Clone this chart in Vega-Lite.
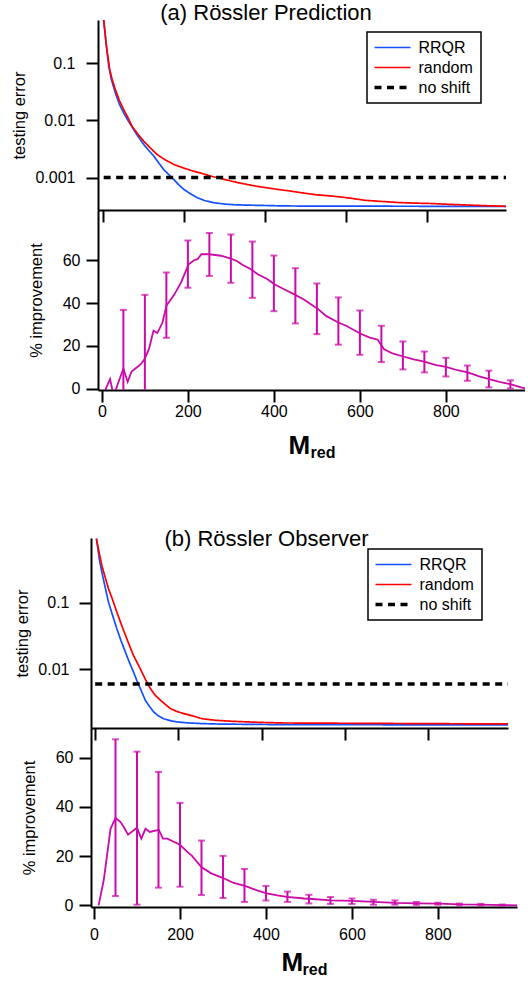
{
  "$schema": "https://vega.github.io/schema/vega-lite/v6.json",
  "background": "white",
  "padding": {"left": 10, "top": 2, "right": 0, "bottom": 0},
  "config": {
    "font": "Liberation Sans",
    "view": {"stroke": null},
    "axis": {"domainColor": "black", "domainWidth": 2, "tickColor": "black", "tickWidth": 2, "tickSize": 12, "labelColor": "black", "labelFontSize": 16, "labelPadding": 6, "labelFont": "Liberation Sans", "titleFont": "Liberation Sans", "titleColor": "black", "titleFontSize": 16.5, "titleFontWeight": "normal", "grid": false, "labelFlush": false, "labelOverlap": false},
    "legend": {"title": null, "orient": "none", "symbolType": "M-1.8,0H1.8", "symbolSize": 400, "symbolOffset": 10, "labelOffset": 18, "labelFontSize": 16, "labelColor": "black", "labelFont": "Liberation Sans", "padding": 7.5, "strokeColor": "black", "fillColor": "white", "rowPadding": 4},
    "title": {"color": "black", "font": "Liberation Sans", "fontWeight": "normal", "fontSize": 22}
  },
  "datasets": {
    "aCurve": [
      {"M": 1, "err": 0.57, "series": "RRQR"}, {"M": 8, "err": 0.19, "series": "RRQR"}, {"M": 13.6, "err": 0.0875, "series": "RRQR"}, {"M": 20, "err": 0.052, "series": "RRQR"}, {"M": 30, "err": 0.03, "series": "RRQR"}, {"M": 40, "err": 0.019, "series": "RRQR"}, {"M": 50.6, "err": 0.0134, "series": "RRQR"}, {"M": 62, "err": 0.0097, "series": "RRQR"}, {"M": 75, "err": 0.00687, "series": "RRQR"}, {"M": 87, "err": 0.0051, "series": "RRQR"}, {"M": 100, "err": 0.00377, "series": "RRQR"}, {"M": 112, "err": 0.003, "series": "RRQR"}, {"M": 125, "err": 0.00236, "series": "RRQR"}, {"M": 137, "err": 0.0018, "series": "RRQR"}, {"M": 149, "err": 0.00138, "series": "RRQR"}, {"M": 162, "err": 0.00112, "series": "RRQR"}, {"M": 174, "err": 0.000923, "series": "RRQR"}, {"M": 186, "err": 0.00075, "series": "RRQR"}, {"M": 199, "err": 0.000618, "series": "RRQR"}, {"M": 215, "err": 0.00052, "series": "RRQR"}, {"M": 232, "err": 0.000443, "series": "RRQR"}, {"M": 250, "err": 0.000395, "series": "RRQR"}, {"M": 273, "err": 0.000362, "series": "RRQR"}, {"M": 300, "err": 0.000343, "series": "RRQR"}, {"M": 322, "err": 0.000334, "series": "RRQR"}, {"M": 350, "err": 0.000329, "series": "RRQR"}, {"M": 388, "err": 0.000325, "series": "RRQR"}, {"M": 430, "err": 0.00032, "series": "RRQR"}, {"M": 470, "err": 0.000317, "series": "RRQR"}, {"M": 550, "err": 0.000316, "series": "RRQR"}, {"M": 650, "err": 0.000315, "series": "RRQR"}, {"M": 750, "err": 0.000314, "series": "RRQR"}, {"M": 850, "err": 0.000313, "series": "RRQR"}, {"M": 994, "err": 0.000312, "series": "RRQR"},
      {"M": 1, "err": 0.57, "series": "random"}, {"M": 8, "err": 0.195, "series": "random"}, {"M": 16, "err": 0.0764, "series": "random"}, {"M": 22, "err": 0.052, "series": "random"}, {"M": 30, "err": 0.0343, "series": "random"}, {"M": 40, "err": 0.022, "series": "random"}, {"M": 50.6, "err": 0.01535, "series": "random"}, {"M": 60, "err": 0.0115, "series": "random"}, {"M": 71, "err": 0.00787, "series": "random"}, {"M": 85, "err": 0.0058, "series": "random"}, {"M": 100, "err": 0.00431, "series": "random"}, {"M": 116, "err": 0.0033, "series": "random"}, {"M": 133, "err": 0.00252, "series": "random"}, {"M": 150, "err": 0.0021, "series": "random"}, {"M": 174, "err": 0.00169, "series": "random"}, {"M": 200, "err": 0.00145, "series": "random"}, {"M": 223, "err": 0.00129, "series": "random"}, {"M": 245, "err": 0.00117, "series": "random"}, {"M": 265, "err": 0.00106, "series": "random"}, {"M": 285, "err": 0.00098, "series": "random"}, {"M": 306, "err": 0.000901, "series": "random"}, {"M": 330, "err": 0.00082, "series": "random"}, {"M": 355, "err": 0.000755, "series": "random"}, {"M": 380, "err": 0.0007, "series": "random"}, {"M": 404, "err": 0.000661, "series": "random"}, {"M": 430, "err": 0.00062, "series": "random"}, {"M": 462, "err": 0.000579, "series": "random"}, {"M": 490, "err": 0.00054, "series": "random"}, {"M": 525, "err": 0.0005, "series": "random"}, {"M": 565, "err": 0.000473, "series": "random"}, {"M": 605, "err": 0.00044, "series": "random"}, {"M": 647, "err": 0.000398, "series": "random"}, {"M": 690, "err": 0.00038, "series": "random"}, {"M": 730, "err": 0.000364, "series": "random"}, {"M": 770, "err": 0.000356, "series": "random"}, {"M": 812, "err": 0.00035, "series": "random"}, {"M": 850, "err": 0.00034, "series": "random"}, {"M": 894, "err": 0.000331, "series": "random"}, {"M": 940, "err": 0.000322, "series": "random"}, {"M": 994, "err": 0.000313, "series": "random"},
      {"M": 1, "err": 0.001, "series": "no shift"}, {"M": 994, "err": 0.001, "series": "no shift"}
    ],
    "aImp": [
      {"M": 5, "imp": -2}, {"M": 9, "imp": 0}, {"M": 19, "imp": 4.6}, {"M": 24, "imp": 0}, {"M": 28, "imp": -3}, {"M": 33, "imp": 0}, {"M": 41, "imp": 4.5}, {"M": 50, "imp": 9.5}, {"M": 60, "imp": 3.3}, {"M": 69, "imp": 8.1}, {"M": 81, "imp": 10}, {"M": 90.5, "imp": 11.5}, {"M": 99.4, "imp": 13.9}, {"M": 109.4, "imp": 18.5}, {"M": 120, "imp": 27.1}, {"M": 129, "imp": 26}, {"M": 141, "imp": 30.9}, {"M": 150, "imp": 38.7}, {"M": 168, "imp": 43.8}, {"M": 184, "imp": 49.5}, {"M": 201.7, "imp": 58}, {"M": 214.6, "imp": 59.9}, {"M": 222.5, "imp": 60.4}, {"M": 231.4, "imp": 62.7}, {"M": 249.3, "imp": 62.7}, {"M": 277, "imp": 62}, {"M": 300, "imp": 60.7}, {"M": 315.8, "imp": 59.3}, {"M": 326.7, "imp": 57.8}, {"M": 346.6, "imp": 55.7}, {"M": 362.5, "imp": 53.4}, {"M": 385.3, "imp": 51.1}, {"M": 401.2, "imp": 48.7}, {"M": 424, "imp": 46.4}, {"M": 449.8, "imp": 43.8}, {"M": 470.7, "imp": 41.5}, {"M": 493.5, "imp": 38.4}, {"M": 500.4, "imp": 37.6}, {"M": 521.3, "imp": 34}, {"M": 550, "imp": 30.9}, {"M": 568, "imp": 29.4}, {"M": 600.7, "imp": 25.8}, {"M": 621.5, "imp": 24}, {"M": 641.4, "imp": 22.9}, {"M": 656.3, "imp": 18.5}, {"M": 676, "imp": 16.5}, {"M": 701, "imp": 15.1}, {"M": 722.8, "imp": 13.9}, {"M": 749.6, "imp": 12.7}, {"M": 777.4, "imp": 11.1}, {"M": 800.2, "imp": 10.3}, {"M": 827, "imp": 8.7}, {"M": 850.8, "imp": 7.7}, {"M": 877.6, "imp": 5.8}, {"M": 900.5, "imp": 4.6}, {"M": 924.3, "imp": 3.3}, {"M": 950, "imp": 2.2}, {"M": 974.9, "imp": 0.7}, {"M": 989.8, "imp": 0}
    ],
    "aBars": [
      {"M": 50, "lo": -5, "hi": 36.8}, {"M": 100, "lo": -5, "hi": 43.8}, {"M": 150, "lo": 23.8, "hi": 54.2}, {"M": 200, "lo": 47.1, "hi": 69.1}, {"M": 250, "lo": 52.6, "hi": 72.6}, {"M": 300, "lo": 49.4, "hi": 71.9}, {"M": 350, "lo": 42.4, "hi": 68.6}, {"M": 400, "lo": 36.2, "hi": 62.1}, {"M": 450, "lo": 30.5, "hi": 56.2}, {"M": 500, "lo": 25.5, "hi": 49.1}, {"M": 550, "lo": 20.6, "hi": 42.6}, {"M": 600, "lo": 15.9, "hi": 36.5}, {"M": 650, "lo": 12.5, "hi": 29.4}, {"M": 700, "lo": 9.1, "hi": 22.1}, {"M": 750, "lo": 7.7, "hi": 17.4}, {"M": 800, "lo": 5.8, "hi": 14.5}, {"M": 850, "lo": 3.8, "hi": 10.9}, {"M": 900, "lo": 0.7, "hi": 8.5}, {"M": 950, "lo": 0.2, "hi": 4.0}
    ],
    "bCurve": [
      {"M": 3, "err": 0.912, "series": "RRQR"}, {"M": 10, "err": 0.45, "series": "RRQR"}, {"M": 16, "err": 0.288, "series": "RRQR"}, {"M": 24, "err": 0.17, "series": "RRQR"}, {"M": 32, "err": 0.102, "series": "RRQR"}, {"M": 42, "err": 0.064, "series": "RRQR"}, {"M": 52, "err": 0.0407, "series": "RRQR"}, {"M": 62, "err": 0.027, "series": "RRQR"}, {"M": 72.5, "err": 0.0182, "series": "RRQR"}, {"M": 82, "err": 0.0128, "series": "RRQR"}, {"M": 92, "err": 0.00914, "series": "RRQR"}, {"M": 100, "err": 0.0068, "series": "RRQR"}, {"M": 108.5, "err": 0.00514, "series": "RRQR"}, {"M": 120.5, "err": 0.00343, "series": "RRQR"}, {"M": 130, "err": 0.0028, "series": "RRQR"}, {"M": 140.5, "err": 0.0023, "series": "RRQR"}, {"M": 152, "err": 0.002, "series": "RRQR"}, {"M": 164.5, "err": 0.00182, "series": "RRQR"}, {"M": 180, "err": 0.0017, "series": "RRQR"}, {"M": 196, "err": 0.00163, "series": "RRQR"}, {"M": 220, "err": 0.00158, "series": "RRQR"}, {"M": 252.5, "err": 0.00154, "series": "RRQR"}, {"M": 300, "err": 0.00151, "series": "RRQR"}, {"M": 360, "err": 0.0015, "series": "RRQR"}, {"M": 452, "err": 0.00148, "series": "RRQR"}, {"M": 600, "err": 0.00148, "series": "RRQR"}, {"M": 800, "err": 0.00147, "series": "RRQR"}, {"M": 991, "err": 0.00147, "series": "RRQR"},
      {"M": 3, "err": 0.912, "series": "random"}, {"M": 10, "err": 0.55, "series": "random"}, {"M": 16, "err": 0.362, "series": "random"}, {"M": 24, "err": 0.24, "series": "random"}, {"M": 32, "err": 0.162, "series": "random"}, {"M": 42, "err": 0.11, "series": "random"}, {"M": 52, "err": 0.0725, "series": "random"}, {"M": 64, "err": 0.045, "series": "random"}, {"M": 76, "err": 0.0288, "series": "random"}, {"M": 84, "err": 0.0215, "series": "random"}, {"M": 92, "err": 0.0162, "series": "random"}, {"M": 102, "err": 0.0122, "series": "random"}, {"M": 112, "err": 0.00914, "series": "random"}, {"M": 120, "err": 0.0072, "series": "random"}, {"M": 128, "err": 0.00575, "series": "random"}, {"M": 136, "err": 0.0048, "series": "random"}, {"M": 144.5, "err": 0.00407, "series": "random"}, {"M": 160, "err": 0.0033, "series": "random"}, {"M": 180.5, "err": 0.00258, "series": "random"}, {"M": 195, "err": 0.00235, "series": "random"}, {"M": 212.5, "err": 0.00217, "series": "random"}, {"M": 235, "err": 0.002, "series": "random"}, {"M": 256, "err": 0.00182, "series": "random"}, {"M": 290, "err": 0.00172, "series": "random"}, {"M": 332, "err": 0.00166, "series": "random"}, {"M": 400, "err": 0.0016, "series": "random"}, {"M": 452, "err": 0.00157, "series": "random"}, {"M": 550, "err": 0.00156, "series": "random"}, {"M": 650, "err": 0.00155, "series": "random"}, {"M": 750, "err": 0.00154, "series": "random"}, {"M": 850, "err": 0.00153, "series": "random"}, {"M": 991, "err": 0.00152, "series": "random"},
      {"M": 0, "err": 0.00604, "series": "no shift"}, {"M": 991, "err": 0.00604, "series": "no shift"}
    ],
    "bImp": [
      {"M": 10.7, "imp": 0}, {"M": 22.6, "imp": 10.2}, {"M": 38.5, "imp": 31.1}, {"M": 50, "imp": 35.5}, {"M": 61.3, "imp": 33.9}, {"M": 69.2, "imp": 31.8}, {"M": 79.2, "imp": 28.7}, {"M": 100, "imp": 31.5}, {"M": 110, "imp": 27.1}, {"M": 119.8, "imp": 31.1}, {"M": 129.7, "imp": 29.8}, {"M": 150.6, "imp": 30.7}, {"M": 160.5, "imp": 27.1}, {"M": 170.4, "imp": 27.1}, {"M": 200, "imp": 24.6}, {"M": 217, "imp": 21.7}, {"M": 228, "imp": 20.1}, {"M": 249.7, "imp": 15.6}, {"M": 271.5, "imp": 13.1}, {"M": 300.3, "imp": 11.1}, {"M": 325, "imp": 9.1}, {"M": 351, "imp": 7.9}, {"M": 379.6, "imp": 6.1}, {"M": 399.4, "imp": 5.0}, {"M": 426.2, "imp": 4.1}, {"M": 449, "imp": 3.5}, {"M": 488.7, "imp": 2.8}, {"M": 500.6, "imp": 2.7}, {"M": 550.2, "imp": 2.0}, {"M": 600.7, "imp": 1.8}, {"M": 651.3, "imp": 1.4}, {"M": 699.9, "imp": 1.0}, {"M": 750.5, "imp": 0.8}, {"M": 801, "imp": 0.7}, {"M": 851.6, "imp": 0.4}, {"M": 900.2, "imp": 0.3}, {"M": 949.8, "imp": 0.15}, {"M": 984.5, "imp": 0}
    ],
    "bBars": [
      {"M": 50, "lo": 3.8, "hi": 67.4}, {"M": 100, "lo": 0.3, "hi": 62.4}, {"M": 150, "lo": 7.2, "hi": 54.2}, {"M": 200, "lo": 7.6, "hi": 41.6}, {"M": 250, "lo": 4.2, "hi": 26.3}, {"M": 300, "lo": 3.0, "hi": 20.1}, {"M": 350, "lo": 1.4, "hi": 14.8}, {"M": 400, "lo": 2.0, "hi": 7.9}, {"M": 450, "lo": 1.4, "hi": 5.6}, {"M": 500, "lo": 0.8, "hi": 4.3}, {"M": 550, "lo": 0.6, "hi": 3.4}, {"M": 600, "lo": 0.6, "hi": 2.8}, {"M": 650, "lo": 0.3, "hi": 2.3}, {"M": 700, "lo": 0.3, "hi": 2.0}, {"M": 750, "lo": 0.2, "hi": 1.4}, {"M": 800, "lo": 0.3, "hi": 1.1}, {"M": 850, "lo": 0.05, "hi": 0.75}, {"M": 900, "lo": 0, "hi": 0.6}, {"M": 950, "lo": -0.05, "hi": 0.35}
    ]
  },
  "bounds": "flush",
  "spacing": 518,
  "resolve": {"scale": {"color": "independent", "strokeDash": "independent"}},
  "vconcat": [
    {
      "bounds": "flush",
      "spacing": 0,
      "resolve": {"scale": {"color": "independent", "strokeDash": "independent"}},
      "hconcat": [
        {"width": 7, "height": 1, "data": {"values": []}, "mark": "point"},
        {
          "bounds": "flush",
          "spacing": 0,
          "resolve": {"scale": {"color": "independent", "strokeDash": "independent"}},
          "vconcat": [
            {
              "width": 408, "height": 190,
              "title": {"text": "(a) Rössler Prediction", "frame": "group", "anchor": "middle", "dx": -36, "offset": -22, "baseline": "alphabetic"},
              "data": {"name": "aCurve"},
              "encoding": {
                "x": {"field": "M", "type": "quantitative", "scale": {"domain": [-13, 994], "nice": false, "zero": false}, "axis": {"values": [0, 200, 400, 600, 800], "labels": false, "title": null}},
                "y": {"field": "err", "type": "quantitative", "scale": {"type": "log", "domain": [0.00027, 0.57], "nice": false}, "axis": {"values": [0.001, 0.01, 0.1], "format": "~g", "title": "testing error", "labelPadding": 11, "titleX": -79, "titleBaseline": "middle"}},
                "color": {"field": "series", "type": "nominal", "scale": {"domain": ["RRQR", "random", "no shift"], "range": ["#1450ff", "#ff0000", "#000000"]}, "legend": {"legendX": 269, "legendY": 12, "encode": {"symbols": {"update": {"strokeWidth": {"signal": "datum.value === 'no shift' ? 3.5 : 1.7"}}}, "legend": {"update": {"strokeWidth": {"value": 1.5}}}}}},
                "strokeDash": {"field": "series", "type": "nominal", "scale": {"domain": ["RRQR", "random", "no shift"], "range": [[1, 0], [1, 0], [7, 5.5]]}, "legend": {"legendX": 269, "legendY": 12, "encode": {"symbols": {"update": {"strokeWidth": {"signal": "datum.value === 'no shift' ? 3.5 : 1.7"}}}, "legend": {"update": {"strokeWidth": {"value": 1.5}}}}}}
              },
              "layer": [
                {"transform": [{"filter": "datum.series !== 'no shift'"}], "mark": {"type": "line", "clip": true, "strokeWidth": 1.7}},
                {"transform": [{"filter": "datum.series === 'no shift'"}], "mark": {"type": "line", "clip": true, "strokeWidth": 3.5}}
              ]
            },
            {
              "width": 427, "height": 180,
              "resolve": {"axis": {"x": "independent"}},
              "layer": [
                {
                  "data": {"name": "aImp"},
                  "mark": {"type": "line", "clip": true, "color": "#cc0aa8", "strokeWidth": 1.8},
                  "encoding": {
                    "x": {"field": "M", "type": "quantitative", "scale": {"domain": [-9, 984], "nice": false, "zero": false}, "axis": {"orient": "bottom", "values": [0, 200, 400, 600, 800], "labelPadding": 1, "title": "M", "titleFontSize": 26, "titleFontWeight": "bold", "titleX": 190, "titleY": 63, "titleAlign": "left", "titleBaseline": "alphabetic"}},
                    "y": {"field": "imp", "type": "quantitative", "title": "% improvement", "scale": {"domain": [-0.5, 83.3], "nice": false, "zero": false}, "axis": {"values": [0, 20, 40, 60], "titleX": -62, "titleBaseline": "middle"}}
                  }
                },
                {
                  "data": {"name": "aBars"},
                  "mark": {"type": "rule", "clip": true, "color": "#cc0aa8", "strokeWidth": 2},
                  "encoding": {
                    "x": {"field": "M", "type": "quantitative", "axis": {"orient": "bottom", "title": "red", "labels": false, "ticks": false, "domain": false, "titleFontSize": 16, "titleFontWeight": "bold", "titleX": 212, "titleY": 67, "titleAlign": "left", "titleBaseline": "alphabetic"}},
                    "y": {"field": "lo", "type": "quantitative", "title": "% improvement"},
                    "y2": {"field": "hi"}
                  }
                },
                {
                  "data": {"name": "aBars"},
                  "mark": {"type": "tick", "orient": "horizontal", "clip": true, "color": "#cc0aa8", "size": 7, "thickness": 2},
                  "encoding": {
                    "x": {"field": "M", "type": "quantitative", "axis": null},
                    "y": {"field": "lo", "type": "quantitative", "title": "% improvement"}
                  }
                },
                {
                  "data": {"name": "aBars"},
                  "mark": {"type": "tick", "orient": "horizontal", "clip": true, "color": "#cc0aa8", "size": 7, "thickness": 2},
                  "encoding": {
                    "x": {"field": "M", "type": "quantitative", "axis": null},
                    "y": {"field": "hi", "type": "quantitative", "title": "% improvement"}
                  }
                }
              ]
            }
          ]
        }
      ]
    },
    {
      "bounds": "flush",
      "spacing": 0,
      "resolve": {"scale": {"color": "independent", "strokeDash": "independent"}},
      "vconcat": [
        {
          "width": 417, "height": 190,
          "title": {"text": "(b) Rössler Observer", "frame": "group", "anchor": "middle", "dx": -33, "offset": -30, "baseline": "alphabetic"},
          "data": {"name": "bCurve"},
          "encoding": {
            "x": {"field": "M", "type": "quantitative", "scale": {"domain": [-10, 991], "nice": false, "zero": false}, "axis": {"values": [0, 200, 400, 600, 800], "labels": false, "title": null}},
            "y": {"field": "err", "type": "quantitative", "scale": {"type": "log", "domain": [0.00132, 0.933], "nice": false}, "axis": {"values": [0.01, 0.1], "format": "~g", "title": "testing error", "labelPadding": 10, "titleX": -69, "titleBaseline": "middle"}},
            "color": {"field": "series", "type": "nominal", "scale": {"domain": ["RRQR", "random", "no shift"], "range": ["#1450ff", "#ff0000", "#000000"]}, "legend": {"legendX": 277, "legendY": 11, "encode": {"symbols": {"update": {"strokeWidth": {"signal": "datum.value === 'no shift' ? 3.5 : 1.7"}}}, "legend": {"update": {"strokeWidth": {"value": 1.5}}}}}},
            "strokeDash": {"field": "series", "type": "nominal", "scale": {"domain": ["RRQR", "random", "no shift"], "range": [[1, 0], [1, 0], [7, 5.5]]}, "legend": {"legendX": 277, "legendY": 11, "encode": {"symbols": {"update": {"strokeWidth": {"signal": "datum.value === 'no shift' ? 3.5 : 1.7"}}}, "legend": {"update": {"strokeWidth": {"value": 1.5}}}}}}
          },
          "layer": [
            {"transform": [{"filter": "datum.series !== 'no shift'"}], "mark": {"type": "line", "clip": true, "strokeWidth": 1.7}},
            {"transform": [{"filter": "datum.series === 'no shift'"}], "mark": {"type": "line", "clip": true, "strokeWidth": 3.5}}
          ]
        },
        {
          "width": 426, "height": 179,
          "resolve": {"axis": {"x": "independent"}},
          "layer": [
            {
              "data": {"name": "bImp"},
              "mark": {"type": "line", "clip": true, "color": "#cc0aa8", "strokeWidth": 1.8},
              "encoding": {
                "x": {"field": "M", "type": "quantitative", "scale": {"domain": [-7, 984], "nice": false, "zero": false}, "axis": {"orient": "bottom", "values": [0, 200, 400, 600, 800], "labelPadding": 7, "title": "M", "titleFontSize": 26, "titleFontWeight": "bold", "titleX": 190, "titleY": 63, "titleAlign": "left", "titleBaseline": "alphabetic"}},
                "y": {"field": "imp", "type": "quantitative", "title": "% improvement", "scale": {"domain": [-0.65, 72], "nice": false, "zero": false}, "axis": {"values": [0, 10, 20, 30, 40, 50, 60, 70], "labelExpr": "datum.value % 20 === 0 ? datum.label : ''", "tickSize": {"condition": {"test": "datum.value % 20 === 0", "value": 12}, "value": 6}, "titleX": -62, "titleBaseline": "middle"}}
              }
            },
            {
              "data": {"name": "bBars"},
              "mark": {"type": "rule", "clip": true, "color": "#cc0aa8", "strokeWidth": 2},
              "encoding": {
                "x": {"field": "M", "type": "quantitative", "axis": {"orient": "bottom", "title": "red", "labels": false, "ticks": false, "domain": false, "titleFontSize": 16, "titleFontWeight": "bold", "titleX": 211, "titleY": 67, "titleAlign": "left", "titleBaseline": "alphabetic"}},
                "y": {"field": "lo", "type": "quantitative", "title": "% improvement"},
                "y2": {"field": "hi"}
              }
            },
            {
              "data": {"name": "bBars"},
              "mark": {"type": "tick", "orient": "horizontal", "clip": true, "color": "#cc0aa8", "size": 7, "thickness": 2},
              "encoding": {
                "x": {"field": "M", "type": "quantitative", "axis": null},
                "y": {"field": "lo", "type": "quantitative", "title": "% improvement"}
              }
            },
            {
              "data": {"name": "bBars"},
              "mark": {"type": "tick", "orient": "horizontal", "clip": true, "color": "#cc0aa8", "size": 7, "thickness": 2},
              "encoding": {
                "x": {"field": "M", "type": "quantitative", "axis": null},
                "y": {"field": "hi", "type": "quantitative", "title": "% improvement"}
              }
            }
          ]
        }
      ]
    }
  ]
}
